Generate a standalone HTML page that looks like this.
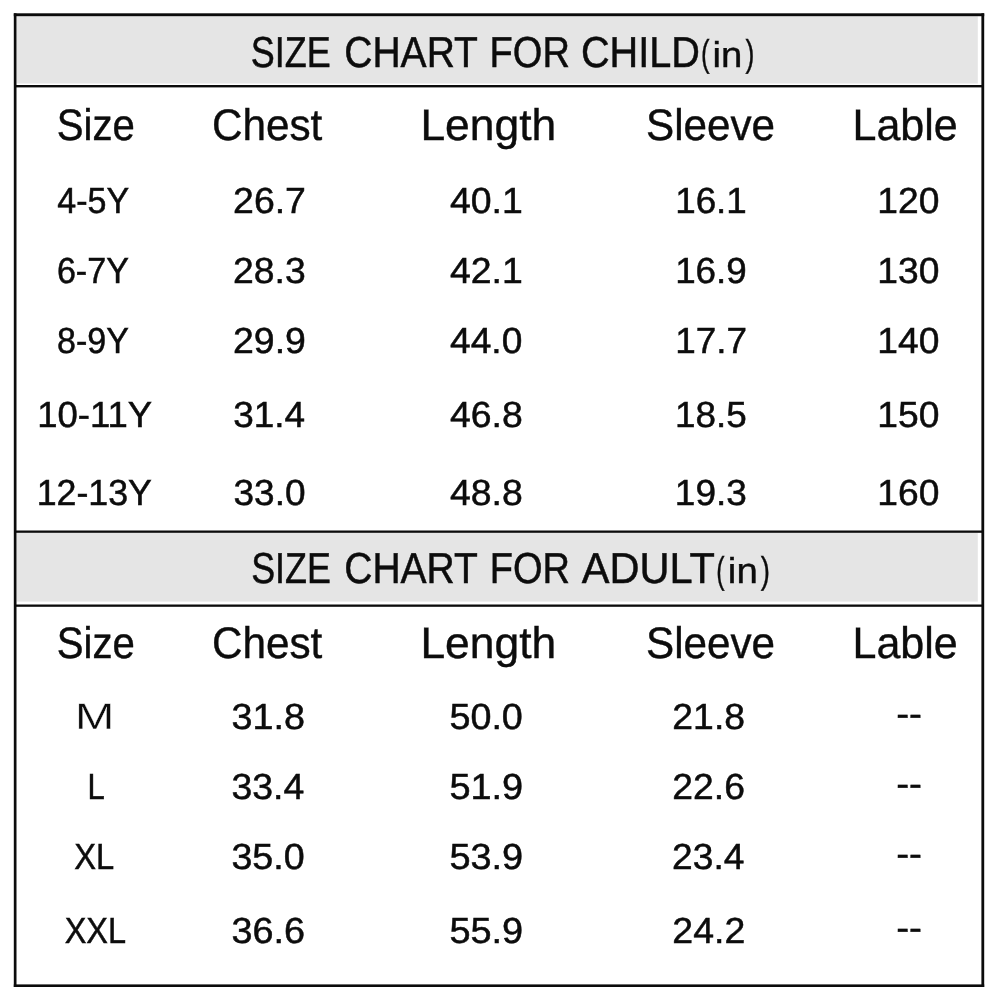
<!DOCTYPE html>
<html lang="en">
<head>
<meta charset="utf-8">
<title>Size Chart</title>
<style>
  html, body { margin: 0; padding: 0; background: #ffffff; }
  body { width: 1000px; height: 1000px; overflow: hidden; }
  svg { display: block; will-change: transform; }
  svg text { font-family: 'Liberation Sans', Arial, sans-serif; fill: #0c0c0c; white-space: pre; text-rendering: geometricPrecision; }
</style>
</head>
<body>
<svg width="1000" height="1000" viewBox="0 0 1000 1000" role="img" aria-label="Size chart for child and adult, in inches">

  <rect x="0" y="0" width="1000" height="1000" fill="#ffffff"/>
  <rect x="16.9" y="16.2" width="960.9" height="67.3" fill="#e5e5e5"/>
  <rect x="16.9" y="532.8" width="960.9" height="68.8" fill="#e5e5e5"/>
  <rect x="13.8" y="13.3" width="970.4" height="2.9" fill="#0b0b0b"/>
  <rect x="13.8" y="984.4" width="970.4" height="2.6" fill="#0b0b0b"/>
  <rect x="13.8" y="13.3" width="2.7" height="973.7" fill="#0b0b0b"/>
  <rect x="981.4" y="13.3" width="2.8" height="973.7" fill="#0b0b0b"/>
  <rect x="16" y="85.0" width="966" height="2.4" fill="#0b0b0b"/>
  <rect x="16" y="530.5" width="966" height="2.3" fill="#0b0b0b"/>
  <rect x="16" y="604.5" width="966" height="2.3" fill="#0b0b0b"/>
  <g class="child-title">
  <text id="t1w1" x="250.82" y="67.15" font-size="43.30" textLength="79.95" lengthAdjust="spacingAndGlyphs" stroke="#0c0c0c" stroke-width="0.5">SIZE</text>
  <text id="t1w2" x="344.23" y="67.15" font-size="43.30" textLength="133.76" lengthAdjust="spacingAndGlyphs" stroke="#0c0c0c" stroke-width="0.5">CHART</text>
  <text id="t1w3" x="489.58" y="67.15" font-size="43.30" textLength="80.28" lengthAdjust="spacingAndGlyphs" stroke="#0c0c0c" stroke-width="0.5">FOR</text>
  <text id="t1w4" x="580.89" y="67.15" font-size="43.30" textLength="119.03" lengthAdjust="spacingAndGlyphs" stroke="#0c0c0c" stroke-width="0.5">CHILD</text>
  <text id="t1p1" x="700.92" y="66.30" font-size="37.40" textLength="8.56" lengthAdjust="spacingAndGlyphs" stroke="#0c0c0c" stroke-width="0.4">(</text>
  <text id="t1in" x="712.49" y="67.15" font-size="35.80" textLength="29.86" lengthAdjust="spacingAndGlyphs" stroke="#0c0c0c" stroke-width="0.4">in</text>
  <text id="t1p2" x="745.50" y="66.30" font-size="37.40" textLength="8.92" lengthAdjust="spacingAndGlyphs" stroke="#0c0c0c" stroke-width="0.4">)</text>
  </g>
  <g class="child-header">
  <text id="h1a" x="56.75" y="140.20" font-size="44.10" textLength="78.11" lengthAdjust="spacingAndGlyphs" stroke="#0c0c0c" stroke-width="0.4">Size</text>
  <text id="h1b" x="211.90" y="140.20" font-size="44.10" textLength="110.43" lengthAdjust="spacingAndGlyphs" stroke="#0c0c0c" stroke-width="0.4">Chest</text>
  <text id="h1c" x="420.43" y="140.20" font-size="44.10" textLength="135.85" lengthAdjust="spacingAndGlyphs" stroke="#0c0c0c" stroke-width="0.4">Length</text>
  <text id="h1d" x="646.02" y="140.20" font-size="44.10" textLength="128.99" lengthAdjust="spacingAndGlyphs" stroke="#0c0c0c" stroke-width="0.4">Sleeve</text>
  <text id="h1e" x="852.47" y="140.20" font-size="44.10" textLength="105.29" lengthAdjust="spacingAndGlyphs" stroke="#0c0c0c" stroke-width="0.4">Lable</text>
  </g>
  <g class="child-rows">
  <text id="c0a" x="57.23" y="213.30" font-size="36.20" textLength="71.88" lengthAdjust="spacingAndGlyphs" stroke="#0c0c0c" stroke-width="0.5">4-5Y</text>
  <text id="c0b" x="233.06" y="213.30" font-size="36.20" textLength="72.91" lengthAdjust="spacingAndGlyphs" stroke="#0c0c0c" stroke-width="0.5">26.7</text>
  <text id="c0c" x="449.94" y="213.30" font-size="36.20" textLength="72.82" lengthAdjust="spacingAndGlyphs" stroke="#0c0c0c" stroke-width="0.5">40.1</text>
  <text id="c0d" x="675.16" y="213.30" font-size="36.20" textLength="71.68" lengthAdjust="spacingAndGlyphs" stroke="#0c0c0c" stroke-width="0.5">16.1</text>
  <text id="c0e" x="877.25" y="213.30" font-size="36.20" textLength="62.09" lengthAdjust="spacingAndGlyphs" stroke="#0c0c0c" stroke-width="0.5">120</text>
  <text id="c1a" x="56.90" y="282.80" font-size="36.20" textLength="72.03" lengthAdjust="spacingAndGlyphs" stroke="#0c0c0c" stroke-width="0.5">6-7Y</text>
  <text id="c1b" x="233.06" y="282.80" font-size="36.20" textLength="72.73" lengthAdjust="spacingAndGlyphs" stroke="#0c0c0c" stroke-width="0.5">28.3</text>
  <text id="c1c" x="449.94" y="282.80" font-size="36.20" textLength="72.82" lengthAdjust="spacingAndGlyphs" stroke="#0c0c0c" stroke-width="0.5">42.1</text>
  <text id="c1d" x="675.15" y="282.80" font-size="36.20" textLength="71.68" lengthAdjust="spacingAndGlyphs" stroke="#0c0c0c" stroke-width="0.5">16.9</text>
  <text id="c1e" x="877.25" y="282.80" font-size="36.20" textLength="62.09" lengthAdjust="spacingAndGlyphs" stroke="#0c0c0c" stroke-width="0.5">130</text>
  <text id="c2a" x="57.09" y="353.20" font-size="36.20" textLength="71.91" lengthAdjust="spacingAndGlyphs" stroke="#0c0c0c" stroke-width="0.5">8-9Y</text>
  <text id="c2b" x="233.06" y="353.20" font-size="36.20" textLength="72.88" lengthAdjust="spacingAndGlyphs" stroke="#0c0c0c" stroke-width="0.5">29.9</text>
  <text id="c2c" x="450.06" y="353.20" font-size="36.20" textLength="72.29" lengthAdjust="spacingAndGlyphs" stroke="#0c0c0c" stroke-width="0.5">44.0</text>
  <text id="c2d" x="675.15" y="353.20" font-size="36.20" textLength="71.83" lengthAdjust="spacingAndGlyphs" stroke="#0c0c0c" stroke-width="0.5">17.7</text>
  <text id="c2e" x="877.25" y="353.20" font-size="36.20" textLength="62.09" lengthAdjust="spacingAndGlyphs" stroke="#0c0c0c" stroke-width="0.5">140</text>
  <text id="c3a" x="37.15" y="427.20" font-size="36.20" textLength="114.98" lengthAdjust="spacingAndGlyphs" stroke="#0c0c0c" stroke-width="0.5">10-11Y</text>
  <text id="c3b" x="233.22" y="427.20" font-size="36.20" textLength="71.97" lengthAdjust="spacingAndGlyphs" stroke="#0c0c0c" stroke-width="0.5">31.4</text>
  <text id="c3c" x="449.95" y="427.20" font-size="36.20" textLength="72.75" lengthAdjust="spacingAndGlyphs" stroke="#0c0c0c" stroke-width="0.5">46.8</text>
  <text id="c3d" x="675.01" y="427.20" font-size="36.20" textLength="71.74" lengthAdjust="spacingAndGlyphs" stroke="#0c0c0c" stroke-width="0.5">18.5</text>
  <text id="c3e" x="877.25" y="427.20" font-size="36.20" textLength="62.09" lengthAdjust="spacingAndGlyphs" stroke="#0c0c0c" stroke-width="0.5">150</text>
  <text id="c4a" x="36.65" y="505.40" font-size="36.20" textLength="115.33" lengthAdjust="spacingAndGlyphs" stroke="#0c0c0c" stroke-width="0.5">12-13Y</text>
  <text id="c4b" x="233.49" y="505.40" font-size="36.20" textLength="72.03" lengthAdjust="spacingAndGlyphs" stroke="#0c0c0c" stroke-width="0.5">33.0</text>
  <text id="c4c" x="449.95" y="505.40" font-size="36.20" textLength="72.75" lengthAdjust="spacingAndGlyphs" stroke="#0c0c0c" stroke-width="0.5">48.8</text>
  <text id="c4d" x="674.87" y="505.40" font-size="36.20" textLength="72.00" lengthAdjust="spacingAndGlyphs" stroke="#0c0c0c" stroke-width="0.5">19.3</text>
  <text id="c4e" x="877.25" y="505.40" font-size="36.20" textLength="62.09" lengthAdjust="spacingAndGlyphs" stroke="#0c0c0c" stroke-width="0.5">160</text>
  </g>
  <g class="adult-title">
  <text id="t2w1" x="251.18" y="583.45" font-size="43.30" textLength="79.65" lengthAdjust="spacingAndGlyphs" stroke="#0c0c0c" stroke-width="0.5">SIZE</text>
  <text id="t2w2" x="344.21" y="583.45" font-size="43.30" textLength="133.74" lengthAdjust="spacingAndGlyphs" stroke="#0c0c0c" stroke-width="0.5">CHART</text>
  <text id="t2w3" x="489.80" y="583.45" font-size="43.30" textLength="80.25" lengthAdjust="spacingAndGlyphs" stroke="#0c0c0c" stroke-width="0.5">FOR</text>
  <text id="t2w4" x="581.78" y="583.45" font-size="43.30" textLength="133.22" lengthAdjust="spacingAndGlyphs" stroke="#0c0c0c" stroke-width="0.5">ADULT</text>
  <text id="t2p1" x="716.35" y="582.60" font-size="37.40" textLength="8.31" lengthAdjust="spacingAndGlyphs" stroke="#0c0c0c" stroke-width="0.4">(</text>
  <text id="t2in" x="727.86" y="583.45" font-size="35.80" textLength="29.95" lengthAdjust="spacingAndGlyphs" stroke="#0c0c0c" stroke-width="0.4">in</text>
  <text id="t2p2" x="760.79" y="582.60" font-size="37.40" textLength="9.21" lengthAdjust="spacingAndGlyphs" stroke="#0c0c0c" stroke-width="0.4">)</text>
  </g>
  <g class="adult-header">
  <text id="h2a" x="56.75" y="658.40" font-size="44.10" textLength="78.11" lengthAdjust="spacingAndGlyphs" stroke="#0c0c0c" stroke-width="0.4">Size</text>
  <text id="h2b" x="211.90" y="658.40" font-size="44.10" textLength="110.43" lengthAdjust="spacingAndGlyphs" stroke="#0c0c0c" stroke-width="0.4">Chest</text>
  <text id="h2c" x="420.43" y="658.40" font-size="44.10" textLength="135.85" lengthAdjust="spacingAndGlyphs" stroke="#0c0c0c" stroke-width="0.4">Length</text>
  <text id="h2d" x="646.02" y="658.40" font-size="44.10" textLength="128.99" lengthAdjust="spacingAndGlyphs" stroke="#0c0c0c" stroke-width="0.4">Sleeve</text>
  <text id="h2e" x="852.47" y="658.40" font-size="44.10" textLength="105.29" lengthAdjust="spacingAndGlyphs" stroke="#0c0c0c" stroke-width="0.4">Lable</text>
  </g>
  <g class="adult-rows">
  <text id="a0a" x="75.11" y="729.40" font-size="36.60" textLength="39.32" lengthAdjust="spacingAndGlyphs" stroke="#ffffff" stroke-width="0.3">M</text>
  <text id="a0b" x="231.43" y="729.40" font-size="36.20" textLength="73.48" lengthAdjust="spacingAndGlyphs" stroke="#0c0c0c" stroke-width="0.5">31.8</text>
  <text id="a0c" x="449.44" y="729.40" font-size="36.20" textLength="73.41" lengthAdjust="spacingAndGlyphs" stroke="#0c0c0c" stroke-width="0.5">50.0</text>
  <text id="a0d" x="672.36" y="729.40" font-size="36.20" textLength="72.65" lengthAdjust="spacingAndGlyphs" stroke="#0c0c0c" stroke-width="0.5">21.8</text>
  <text id="a0e" x="896.17" y="726.30" font-size="36.50" textLength="25.78" lengthAdjust="spacingAndGlyphs" stroke="#0c0c0c" stroke-width="0.45">--</text>
  <text id="a1a" x="87.43" y="798.80" font-size="36.20" textLength="17.27" lengthAdjust="spacingAndGlyphs" stroke="#0c0c0c" stroke-width="0.5">L</text>
  <text id="a1b" x="231.45" y="798.80" font-size="36.20" textLength="72.77" lengthAdjust="spacingAndGlyphs" stroke="#0c0c0c" stroke-width="0.5">33.4</text>
  <text id="a1c" x="449.44" y="798.80" font-size="36.20" textLength="73.76" lengthAdjust="spacingAndGlyphs" stroke="#0c0c0c" stroke-width="0.5">51.9</text>
  <text id="a1d" x="672.36" y="798.80" font-size="36.20" textLength="72.56" lengthAdjust="spacingAndGlyphs" stroke="#0c0c0c" stroke-width="0.5">22.6</text>
  <text id="a1e" x="896.17" y="795.70" font-size="36.50" textLength="25.78" lengthAdjust="spacingAndGlyphs" stroke="#0c0c0c" stroke-width="0.45">--</text>
  <text id="a2a" x="74.18" y="869.40" font-size="36.20" textLength="39.97" lengthAdjust="spacingAndGlyphs" stroke="#0c0c0c" stroke-width="0.5">XL</text>
  <text id="a2b" x="231.43" y="869.40" font-size="36.20" textLength="73.16" lengthAdjust="spacingAndGlyphs" stroke="#0c0c0c" stroke-width="0.5">35.0</text>
  <text id="a2c" x="449.44" y="869.40" font-size="36.20" textLength="73.76" lengthAdjust="spacingAndGlyphs" stroke="#0c0c0c" stroke-width="0.5">53.9</text>
  <text id="a2d" x="672.11" y="869.40" font-size="36.20" textLength="72.30" lengthAdjust="spacingAndGlyphs" stroke="#0c0c0c" stroke-width="0.5">23.4</text>
  <text id="a2e" x="896.17" y="866.30" font-size="36.50" textLength="25.78" lengthAdjust="spacingAndGlyphs" stroke="#0c0c0c" stroke-width="0.45">--</text>
  <text id="a3a" x="64.64" y="943.20" font-size="36.20" textLength="61.39" lengthAdjust="spacingAndGlyphs" stroke="#0c0c0c" stroke-width="0.5">XXL</text>
  <text id="a3b" x="231.42" y="943.20" font-size="36.20" textLength="73.51" lengthAdjust="spacingAndGlyphs" stroke="#0c0c0c" stroke-width="0.5">36.6</text>
  <text id="a3c" x="449.44" y="943.20" font-size="36.20" textLength="73.76" lengthAdjust="spacingAndGlyphs" stroke="#0c0c0c" stroke-width="0.5">55.9</text>
  <text id="a3d" x="672.34" y="943.20" font-size="36.20" textLength="72.89" lengthAdjust="spacingAndGlyphs" stroke="#0c0c0c" stroke-width="0.5">24.2</text>
  <text id="a3e" x="896.17" y="940.10" font-size="36.50" textLength="25.78" lengthAdjust="spacingAndGlyphs" stroke="#0c0c0c" stroke-width="0.45">--</text>
  </g>
</svg>
</body>
</html>
